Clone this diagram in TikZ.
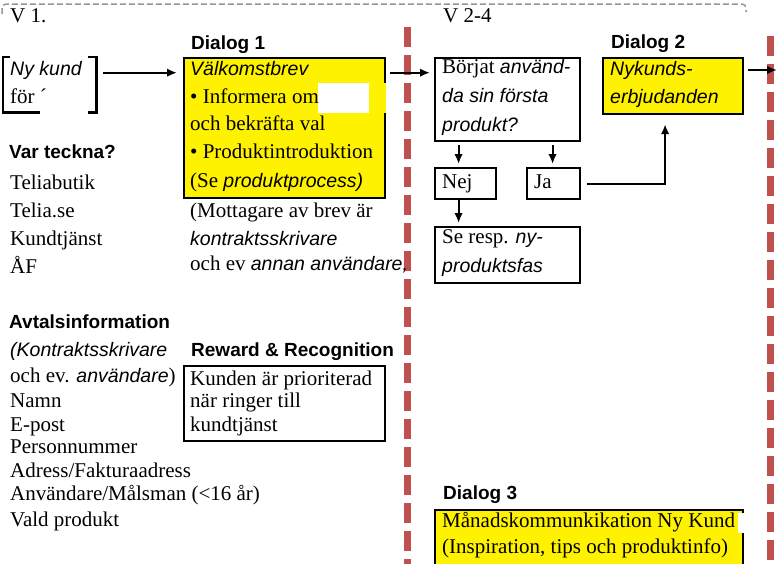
\documentclass[tikz,border=0pt]{standalone}
\usepackage{fontspec}
\setmainfont{Liberation Serif}
\newfontfamily\arialfam{Liberation Sans}
\usetikzlibrary{arrows.meta}
% sans italic run inside serif text
\newcommand\sansit[1]{{\arialfam\itshape\fontsize{19.5}{25}\selectfont #1}}

\definecolor{phasered}{RGB}{192,80,77}
\definecolor{framegray}{RGB}{150,150,150}

\begin{document}
\begin{tikzpicture}[x=1pt,y=-1pt,
  txt/.style={anchor=base west, inner sep=0pt, font=\fontsize{21}{25}\selectfont},
  head/.style={anchor=base west, inner sep=0pt, font=\arialfam\bfseries\fontsize{19}{23}\selectfont},
  box/.style={draw, line width=2.2pt, anchor=north west, inner sep=0pt},
  yellowbox/.style={box, fill=yellow},
  arr/.style={line width=2pt, -{Latex[length=10pt,width=8.5pt]}},
  phase/.style={draw=phasered, line width=7pt, dash pattern=on 20pt off 8pt},
  frame/.style={draw=framegray, line width=1.5pt, dash pattern=on 6pt off 3pt, rounded corners=4pt}]

\useasboundingbox (0,0) rectangle (780,563);
\clip (0,0) rectangle (780,563);

% phase separators
\draw[phase] (407,27) -- (407,575);
\draw[phase] (770,36) -- (770,575);

% outer frame (top edge)
\draw[frame] (2,14) -- (2,4) -- (746,4) -- (746,12);

% week labels
\node[txt] (v1) at (10,22) {V 1.};
\node[txt] (v24) at (443,22) {V 2-4};

% new customer
\node[anchor=north west, inner sep=0pt, minimum width=93pt, minimum height=55pt] (nk) at (3,57) {};
\draw[line width=2.2pt] ([xshift=7pt]nk.north west) -- (nk.north west) -- (nk.south west) -- ([xshift=37pt]nk.south west);
\draw[line width=2.2pt] ([xshift=-8pt]nk.north east) -- (nk.north east) -- (nk.south east) -- ([xshift=-8pt]nk.south east);
\node[txt] (nk1) at (10,75) {\sansit{Ny kund}};
\node[txt] (nk2) at (10,103) {för ´};

% Dialog 1
\node[head] (h1) at (191,49) {Dialog 1};
\node[yellowbox, minimum width=201pt, minimum height=140pt] (d1) at (183,57) {};
\fill[white] (318,83) rectangle (369,113);
\fill[yellow] (369,83) rectangle (386,113);
\node[txt] (d1a) at (190,75) {\sansit{Välkomstbrev}};
\node[txt] (d1b) at (190,103) {• Informera om};
\node[txt] (d1c) at (190,130) {och bekräfta val};
\node[txt] (d1d) at (190,158) {• Produktintroduktion};
\node[txt] (d1e) at (190,187) {(Se \sansit{produktprocess)}};

\draw[arr, shorten <=7pt, shorten >=6pt] (nk.east |- nk1.mid) -- (d1.west |- nk1.mid);

% where to sign up
\node[head] (hv) at (9,158) {Var teckna?};
\node[txt] (w1) at (10,189) {Teliabutik};
\node[txt] (w2) at (10,217) {Telia.se};
\node[txt] (w3) at (10,245) {Kundtjänst};
\node[txt] (w4) at (10,273) {ÅF};

\node[txt] (m1) at (190,217) {(Mottagare av brev är};
\node[txt] (m2) at (190,245) {\sansit{kontraktsskrivare}};
\node[txt] (m3) at (190,270) {och ev \sansit{annan användare,}};

% contract information
\node[head] (ha) at (9,328) {Avtalsinformation};
\node[txt] (a1) at (10,356) {\sansit{(Kontraktsskrivare}};
\node[txt] (a2) at (10,382) {och ev. \sansit{användare})};
\node[txt] (a3) at (10,407) {Namn};
\node[txt] (a4) at (10,431) {E-post};
\node[txt] (a5) at (10,453) {Personnummer};
\node[txt] (a6) at (10,477) {Adress/Fakturaadress};
\node[txt] (a7) at (10,500) {Användare/Målsman (<16 år)};
\node[txt] (a8) at (10,526) {Vald produkt};

% reward & recognition
\node[head] (hr) at (191,356) {Reward \& Recognition};
\node[box, minimum width=201pt, minimum height=75pt] (rr) at (183,365) {};
\node[txt] (r1) at (190,385) {Kunden är prioriterad};
\node[txt] (r2) at (190,407) {när ringer till};
\node[txt] (r3) at (190,431) {kundtjänst};

% weeks 2-4: first product in use?
\node[box, minimum width=145pt, minimum height=83pt] (bq) at (434,57) {};
\node[txt] (bq1) at (442,73) {Börjat \sansit{använd-}};
\node[txt] (bq2) at (442,102) {\sansit{da sin första}};
\node[txt] (bq3) at (442,131) {\sansit{produkt?}};

\draw[arr, shorten <=4pt, shorten >=4pt] (d1.east |- nk1.mid) -- (bq.west |- nk1.mid);

\node[box, minimum width=61pt, minimum height=31pt] (nej) at (434,167) {};
\node[txt] (nejt) at (442,188) {Nej};
\node[box, minimum width=53pt, minimum height=31pt] (ja) at (526,167) {};
\node[txt] (jat) at (534,188) {Ja};

\draw[arr, shorten <=3pt, shorten >=3pt] ([xshift=-7pt]nej.north |- bq.south) -- ([xshift=-7pt]nej.north);
\draw[arr, shorten <=3pt, shorten >=3pt] ([xshift=-1pt]ja.north |- bq.south) -- ([xshift=-1pt]ja.north);

\node[box, minimum width=145pt, minimum height=56pt] (sr) at (434,226) {};
\node[txt] (sr1) at (442,243) {Se resp. \sansit{ny-}};
\node[txt] (sr2) at (442,272) {\sansit{produktsfas}};

\draw[arr, shorten >=3pt] ([xshift=-7pt]nej.south) -- ([xshift=-7pt]nej.south |- sr.north);

% Dialog 2
\node[head] (h2) at (611,48) {Dialog 2};
\node[yellowbox, minimum width=140pt, minimum height=56pt] (d2) at (602,57) {};
\node[txt] (d2a) at (610,75) {\sansit{Nykunds-}};
\node[txt] (d2b) at (610,103) {\sansit{erbjudanden}};

\draw[arr, shorten <=6pt, shorten >=9pt] (ja.east) -| ([xshift=-8pt]d2.south);

\coordinate (out2) at (777,70);
\draw[arr, shorten <=4pt] (d2.east |- out2) -- (out2);

% Dialog 3
\node[head] (h3) at (443,499) {Dialog 3};
\node[yellowbox, minimum width=308pt, minimum height=75pt] (d3) at (434,509) {};
\fill[white] (738,513) rectangle (746,533);
\fill[yellow] (733,513) rectangle (738,533);
\node[txt] (d3a) at (442,527) {Månadskommunkikation Ny Kund};
\node[txt] (d3b) at (442,553) {(Inspiration, tips och produktinfo)};

\end{tikzpicture}
\end{document}
